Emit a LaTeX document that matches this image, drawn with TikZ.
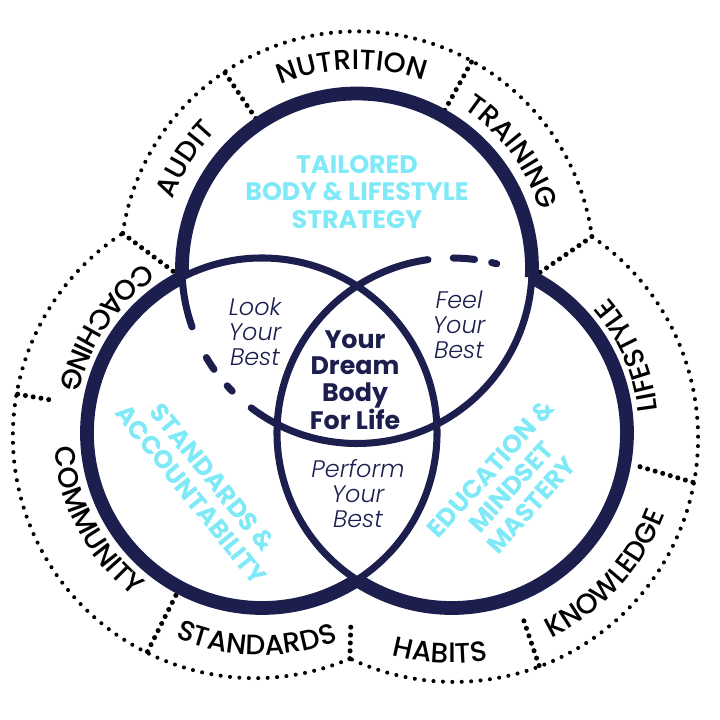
\documentclass[tikz,border=0pt]{standalone}
\usepackage{fontspec}
\setmainfont{Poppins}
\newfontfamily\lightfont{Poppins}[UprightFont=* Light, ItalicFont=* Light Italic]
\newfontfamily\mediumfont{Poppins}[UprightFont=* Medium]
\usetikzlibrary{decorations.text, calc}
\definecolor{navy}{HTML}{1C1F4D}
\definecolor{skyblue}{HTML}{7FE9F8}
\newcommand{\ringfont}{\mediumfont\fontsize{20}{20}\selectfont}
\tikzset{
	outline/.style={draw=navy, line width=9.8pt},
	inline/.style={draw=navy, line width=5pt, line cap=round},
	ring/.style={draw=black, line width=2.9pt, line cap=round, dash pattern=on 0pt off 6.7pt},
	divider/.style={draw=black, line width=3.6pt, line cap=round, dash pattern=on 0pt off 5.6pt},
	ringlabel/.style={decorate, decoration={text along path, text align=center, text={|\ringfont|#1}}},
	lobe/.style={text=skyblue, font=\fontsize{18}{19.5}\selectfont\bfseries, align=center, inner sep=0pt},
	core/.style={text=navy, font=\fontsize{18}{18.8}\selectfont\bfseries, align=center, inner sep=0pt},
	overlap/.style={text=navy, font=\fontsize{17}{17.8}\selectfont\lightfont\itshape, align=center, inner sep=0pt}
}

\begin{document}
\begin{tikzpicture}[x=0.025cm, y=0.025cm]
	\useasboundingbox (0,0) rectangle (720,720);
	\coordinate (top) at (357,451.5);
	\coordinate (left) at (262,287);
	\coordinate (right) at (452,287);
	\coordinate (ringL) at (255,284);
	\coordinate (ringR) at (454,282);
	\coordinate (notchL) at (122.7,486.6);
	\coordinate (notchR) at (591.9,483.4);
	\coordinate (notchB) at (349.8,61.3);
	
	% dotted frame
	\draw[ring] (notchL) arc[start angle=171.5, end angle=7.7, radius=237];
	\draw[ring] (notchR) arc[start angle=55.6, end angle=-115.3, radius=244];
	\draw[ring] (notchB) arc[start angle=293.1, end angle=123.1, radius=242];
	
	\draw[divider] ($(top)+(124:236)$) -- ($(top)+(124:176)$);
	\draw[divider] ($(top)+(61:236)$) -- ($(top)+(61:176)$);
	\draw[divider] (notchR) -- ($(top)+(357.1:176)$);
	\draw[divider] (notchL) -- ($(top)+(182.9:176)$);
	\draw[divider] ($(ringL)+(170:241)$) -- ($(ringL)+(170:203)$);
	\draw[divider] ($(ringL)+(243.5:241)$) -- ($(left)+(242:176)$);
	\draw[divider] (notchB) -- (351,100);
	\draw[divider] ($(ringR)+(-69.5:243)$) -- ($(right)+(-69:195)$);
	\draw[divider] ($(ringR)+(-10.5:243)$) -- ($(right)+(-10:186)$);
	
	% circles
	\draw[outline] ($(top)+(-2.9:175)$) arc[start angle=-2.9, end angle=182.9, radius=175];
	\draw[outline] ($(left)+(117.1:175)$) arc[start angle=117.1, end angle=302.9, radius=175];
	\draw[outline] ($(right)+(-122.9:175)$) arc[start angle=-122.9, end angle=62.9, radius=175];
	
	\draw[inline] ($(top)+(182.9:175)$) arc[start angle=182.9, end angle=199.5, radius=175];
	\draw[inline] ($(top)+(210.6:175)$) arc[start angle=210.6, end angle=215.2, radius=175];
	\draw[inline] ($(top)+(222.1:175)$) arc[start angle=222.1, end angle=224.5, radius=175];
	\draw[inline] ($(top)+(232.8:175)$) arc[start angle=232.8, end angle=357.1, radius=175];
	\draw[inline] ($(left)+(-57.1:175)$) arc[start angle=-57.1, end angle=117.1, radius=175];
	\draw[inline] ($(right)+(97.9:175)$) arc[start angle=97.9, end angle=237.1, radius=175];
	\draw[inline] ($(right)+(82.6:175)$) arc[start angle=82.6, end angle=89.6, radius=175];
	\draw[inline] ($(right)+(75.2:175)$) arc[start angle=75.2, end angle=76.9, radius=175];
	
	% ring labels
	\path[ringlabel=NUTRITION] ($(top)+(126.5:199)$) arc[start angle=126.5, end angle=56.5, radius=199];
	\path[ringlabel=TRAINING] ($(top)+(71.9:192)$) arc[start angle=71.9, end angle=1.9, radius=192];
	\path[ringlabel=AUDIT] ($(top)+(182.5:197)$) arc[start angle=182.5, end angle=112.5, radius=197];
	\path[ringlabel=COACHING] ($(left)+(111:207)$) arc[start angle=111, end angle=181, radius=207];
	\path[ringlabel=COMMUNITY] ($(left)+(173:208)$) arc[start angle=173, end angle=243, radius=208];
	\path[ringlabel=STANDARDS] ($(left)+(233.5:222)$) arc[start angle=233.5, end angle=303.5, radius=222];
	\path[ringlabel=HABITS] ($(right)+(232:230)$) arc[start angle=232, end angle=302, radius=230];
	\path[ringlabel=KNOWLEDGE] ($(right)+(-77.5:228)$) arc[start angle=-77.5, end angle=-7.5, radius=228];
	\path[ringlabel=LIFESTYLE] ($(right)+(-11.3:207)$) arc[start angle=-11.3, end angle=58.7, radius=207];
	
	% texts
	\node[lobe] (strategy) at (357,528) {TAILORED\\BODY \& LIFESTYLE\\STRATEGY};
	\node[lobe, rotate=-51] (standards) at (202,234) {STANDARDS \&\\ACCOUNTABILITY};
	\node[lobe, rotate=48] (education) at (511,233) {EDUCATION \&\\MINDSET\\MASTERY};
	\node[core] (dream) at (355,340) {Your\\Dream\\Body\\For Life};
	\node[overlap] (look) at (255,388) {Look\\Your\\Best};
	\node[overlap] (feel) at (459,395) {Feel\\Your\\Best};
	\node[overlap] (perform) at (358,226) {Perform\\Your\\Best};
\end{tikzpicture}
\end{document}
